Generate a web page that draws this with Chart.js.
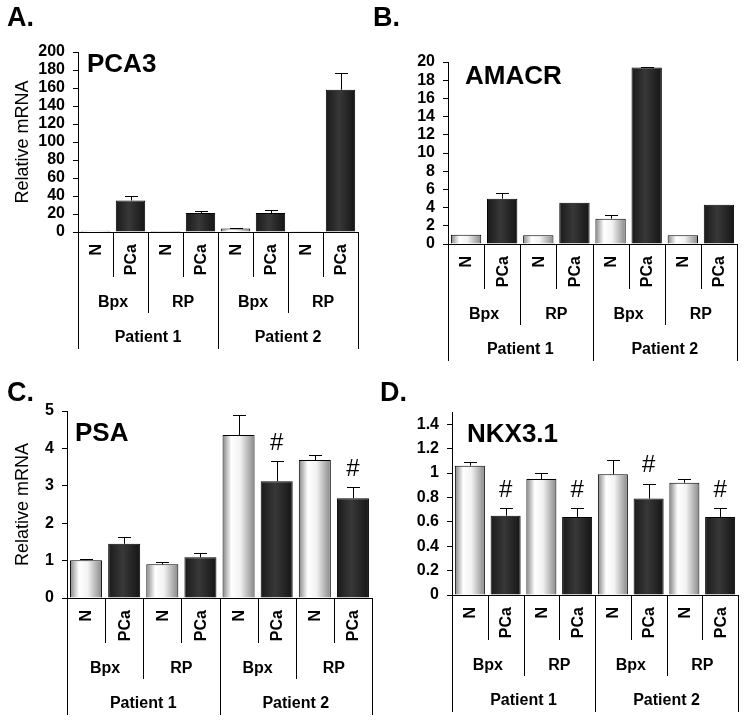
<!DOCTYPE html>
<html>
<head>
<meta charset="utf-8">
<script src="https://cdn.jsdelivr.net/npm/chart.js@4.4.1/dist/chart.umd.min.js"></script>
<style>
  body { margin: 0; background: #fff; font-family: "Liberation Sans", Arial, sans-serif; }
  #fig { position: relative; width: 747px; height: 723px; overflow: hidden; }
  canvas { position: absolute; }
  .letter { position: absolute; font-weight: bold; font-size: 27px; line-height: 27px; color: #000; }
  .gene { position: absolute; font-weight: bold; font-size: 26px; line-height: 26px; color: #000; }
</style>
</head>
<body>
<div id="fig">
  <canvas id="chartA" width="370" height="360" style="left:0;top:0"></canvas>
  <canvas id="chartB" width="377" height="372" style="left:370px;top:0"></canvas>
  <canvas id="chartC" width="376" height="343" style="left:0;top:380px"></canvas>
  <canvas id="chartD" width="371" height="343" style="left:376px;top:380px"></canvas>

  <div class="letter" style="left:7px;top:4px">A.</div>
  <div class="letter" style="left:373px;top:4px">B.</div>
  <div class="letter" style="left:7px;top:379px">C.</div>
  <div class="letter" style="left:380px;top:379px">D.</div>

  <div class="gene" style="left:87px;top:50px">PCA3</div>
  <div class="gene" style="left:465px;top:62px">AMACR</div>
  <div class="gene" style="left:75px;top:419px">PSA</div>
  <div class="gene" style="left:467px;top:420px">NKX3.1</div>
</div>

<script>
// categorias do eixo x (tabela de 3 niveis)
const tissue = ['N', 'PCa', 'N', 'PCa', 'N', 'PCa', 'N', 'PCa'];
const specimens = ['Bpx', 'RP', 'Bpx', 'RP'];
const patients = ['Patient 1', 'Patient 2'];

// A. PCA3
const pca3Values = [1.5, 35, 1.2, 21, 4, 21, 0.3, 158];
const pca3Errors = [0, 5, 0, 2.5, 1, 3.5, 0, 19];
// B. AMACR
const amacrValues = [1.03, 4.98, 0.95, 4.52, 2.78, 19.4, 0.95, 4.3];
const amacrErrors = [0, 0.58, 0, 0, 0.44, 0.1, 0, 0];
// C. PSA
const psaValues = [1.01, 1.45, 0.9, 1.09, 4.36, 3.12, 3.69, 2.67];
const psaErrors = [0.02, 0.18, 0.06, 0.11, 0.52, 0.53, 0.14, 0.29];
const psaMarks = ['', '', '', '', '', '#', '', '#'];
// D. NKX3.1
const nkxValues = [1.06, 0.65, 0.95, 0.64, 0.99, 0.79, 0.92, 0.64];
const nkxErrors = [0.027, 0.06, 0.05, 0.07, 0.117, 0.123, 0.027, 0.07];
const nkxMarks = ['', '#', '', '#', '', '#', '', '#'];

const FONT = '"Liberation Sans", Arial, sans-serif';
const BAR_PCT = 0.84;

// gradiente horizontal das barras (N claro, PCa escuro)
function barFill(ctx) {
  const chart = ctx.chart;
  const xs = chart.scales.x;
  const light = ctx.dataIndex % 2 === 0;
  const plain = light ? '#dddddd' : '#2a2a2a';
  if (!xs || ctx.type !== 'data') return plain;
  const cx = xs.getPixelForValue(ctx.dataIndex);
  const half = xs.width / tissue.length * BAR_PCT / 2;
  if (!Number.isFinite(cx) || !Number.isFinite(half) || half <= 0) return plain;
  const g = chart.ctx.createLinearGradient(cx - half, 0, cx + half, 0);
  if (light) {
    g.addColorStop(0, '#858585');
    g.addColorStop(0.28, '#ffffff');
    g.addColorStop(0.55, '#f2f2f2');
    g.addColorStop(1, '#888888');
  } else {
    g.addColorStop(0, '#1a1a1a');
    g.addColorStop(0.45, '#383838');
    g.addColorStop(1, '#151515');
  }
  return g;
}

// barras de erro (so para cima) e marcas '#'
const errorBars = {
  id: 'errorBars',
  afterDatasetsDraw(chart, args, opts) {
    const c = chart.ctx;
    const ys = chart.scales.y;
    const values = chart.data.datasets[0].data;
    const meta = chart.getDatasetMeta(0);
    c.save();
    c.strokeStyle = '#000';
    c.lineWidth = 1;
    meta.data.forEach((bar, i) => {
      const err = opts.errors[i] || 0;
      const x = Math.round(bar.x) + 0.5;
      const yTop = ys.getPixelForValue(values[i] + err);
      if (err > 0) {
        const yBar = ys.getPixelForValue(values[i]);
        c.beginPath();
        c.moveTo(x, yBar);
        c.lineTo(x, Math.round(yTop) + 0.5);
        c.moveTo(x - 6.5, Math.round(yTop) + 0.5);
        c.lineTo(x + 6.5, Math.round(yTop) + 0.5);
        c.stroke();
      }
      if (opts.marks && opts.marks[i]) {
        c.fillStyle = '#000';
        c.font = '24px ' + FONT;
        c.textAlign = 'center';
        c.textBaseline = 'middle';
        c.fillText(opts.marks[i], bar.x, yTop - 18);
      }
    });
    c.restore();
  }
};

// tabela abaixo do eixo x: linhas, N/PCa (rodado), Bpx/RP e Patient
const tableBelow = {
  id: 'tableBelow',
  afterDraw(chart) {
    const c = chart.ctx;
    const xs = chart.scales.x;
    const y0 = chart.chartArea.bottom;
    const catW = xs.width / tissue.length;
    const edge = k => Math.round(xs.left + k * catW) + 0.5;
    c.save();
    c.strokeStyle = '#000';
    c.lineWidth = 1;
    for (let k = 0; k <= tissue.length; k++) {
      let len = 45;
      if (k % 4 === 0) len = 117;
      else if (k % 2 === 0) len = 81;
      c.beginPath();
      c.moveTo(edge(k), y0);
      c.lineTo(edge(k), y0 + len);
      c.stroke();
    }
    c.fillStyle = '#000';
    c.font = 'bold 16px ' + FONT;
    c.textBaseline = 'middle';
    // N / PCa lidos de baixo para cima
    c.textAlign = 'right';
    xs.getLabels().forEach((lab, i) => {
      c.save();
      c.translate(xs.getPixelForValue(i), y0 + 12);
      c.rotate(-Math.PI / 2);
      c.fillText(lab, 0, 1);
      c.restore();
    });
    c.textAlign = 'center';
    specimens.forEach((s, j) => {
      c.fillText(s, xs.left + (j * 2 + 1) * catW, y0 + 71);
    });
    patients.forEach((p, j) => {
      c.fillText(p, xs.left + (j * 4 + 2) * catW, y0 + 106);
    });
    c.restore();
  }
};

function makeChart(id, values, errors, marks, yRange, pad, yWidth, yTitle) {
  return new Chart(document.getElementById(id), {
    type: 'bar',
    data: {
      labels: tissue,
      datasets: [{
        data: values,
        backgroundColor: barFill,
        borderColor: '#000',
        borderWidth: 1,
        barPercentage: BAR_PCT,
        categoryPercentage: 1
      }]
    },
    options: {
      responsive: false,
      animation: false,
      devicePixelRatio: 1,
      layout: { padding: pad },
      plugins: {
        legend: { display: false },
        tooltip: { enabled: false },
        errorBars: { errors: errors, marks: marks }
      },
      scales: {
        x: {
          grid: { display: false },
          border: { color: '#000', width: 1 },
          ticks: { display: false },
          afterFit(s) { s.height = 120; }
        },
        y: {
          min: 0,
          max: yRange.max,
          grid: { drawOnChartArea: false, tickLength: 5, color: '#000' },
          border: { color: '#000', width: 1 },
          ticks: {
            stepSize: yRange.step,
            includeBounds: false,
            autoSkip: false,
            color: '#000',
            padding: 8,
            font: { family: FONT, size: 16, weight: 'bold' },
            callback: v => String(+v.toFixed(1))
          },
          title: {
            display: !!yTitle,
            text: yTitle || '',
            color: '#000',
            font: { family: FONT, size: 18 },
            padding: { top: 12, bottom: 0 }
          },
          afterFit(s) { s.width = yWidth; }
        }
      }
    },
    plugins: [errorBars, tableBelow]
  });
}

makeChart('chartA', pca3Values, pca3Errors, null, { max: 200, step: 20 },
  { left: 0, right: 12, top: 52, bottom: 8 }, 78, 'Relative mRNA');
makeChart('chartB', amacrValues, amacrErrors, null, { max: 20, step: 2 },
  { left: 0, right: 10, top: 62, bottom: 8 }, 78, null);
makeChart('chartC', psaValues, psaErrors, psaMarks, { max: 5, step: 1 },
  { left: 0, right: 4, top: 31, bottom: 5 }, 67, 'Relative mRNA');
makeChart('chartD', nkxValues, nkxErrors, nkxMarks, { max: 1.5, step: 0.2 },
  { left: 0, right: 9, top: 32, bottom: 8 }, 76, null);
</script>
</body>
</html>
